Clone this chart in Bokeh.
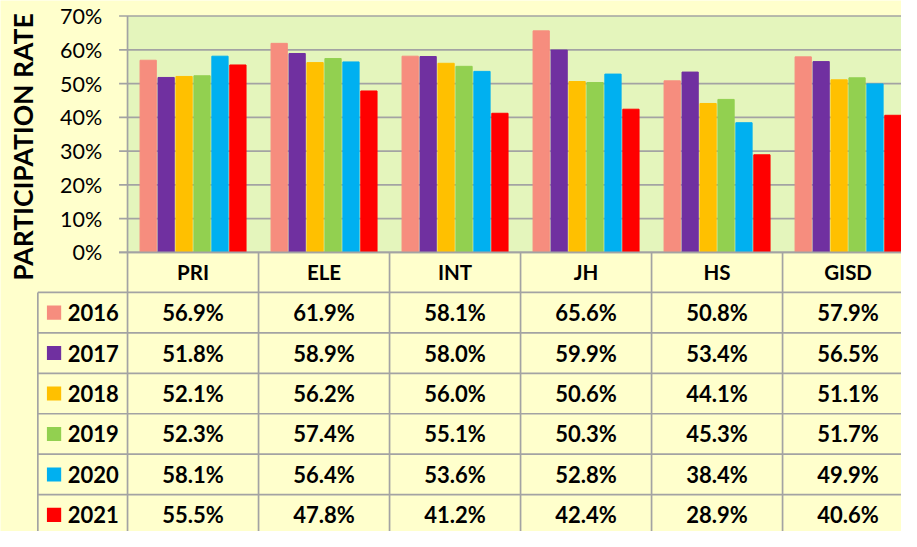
import math
from bokeh.plotting import figure
from bokeh.models import Range1d, ColumnDataSource
from bokeh.core.properties import value
from bokeh.embed import file_html
from bokeh.resources import INLINE

# ---------------- data ----------------
categories = ["PRI", "ELE", "INT", "JH", "HS", "GISD"]
years = ["2016", "2017", "2018", "2019", "2020", "2021"]
rate_2016 = [56.9, 61.9, 58.1, 65.6, 50.8, 57.9]
rate_2017 = [51.8, 58.9, 58.0, 59.9, 53.4, 56.5]
rate_2018 = [52.1, 56.2, 56.0, 50.6, 44.1, 51.1]
rate_2019 = [52.3, 57.4, 55.1, 50.3, 45.3, 51.7]
rate_2020 = [58.1, 56.4, 53.6, 52.8, 38.4, 49.9]
rate_2021 = [55.5, 47.8, 41.2, 42.4, 28.9, 40.6]
y_ticks = [0, 10, 20, 30, 40, 50, 60, 70]
y_tick_labels = ["0%", "10%", "20%", "30%", "40%", "50%", "60%", "70%"]
y_title = "PARTICIPATION RATE"

series = [rate_2016, rate_2017, rate_2018, rate_2019, rate_2020, rate_2021]
colors = ["#F68D7E", "#7030A0", "#FFC000", "#92D050", "#00B0F0", "#FF0000"]

# ---------------- layout (reference-pixel geometry, scaled to figure) ----------------
W, H = 901, 531
REF_W, REF_H = 917.0, 547.0
PLOT_LEFT = 129.3                   # x of plot-area left edge
CAT_W = 133.33                      # px per category
ZERO_Y = 259.5                      # y of 0%
PX_PER_UNIT = 3.479                 # px per percentage point

def X(px):
    return (px - PLOT_LEFT) / CAT_W

def Y(py):
    return (ZERO_Y - py) / PX_PER_UNIT

x_start, x_end = X(0.0), X(REF_W)
y_end, y_start = Y(0.0), Y(REF_H)

BG = "#FFFFCC"
PLOT_BG = "#E4F5BC"
LINE = "#A3A3A3"
LW = 1.7

p = figure(width=W, height=H, x_range=Range1d(x_start, x_end),
           y_range=Range1d(y_start, y_end), output_backend="svg",
           toolbar_location=None, min_border=0,
           x_axis_location=None, y_axis_location=None)
p.grid.visible = False
p.outline_line_color = None
p.background_fill_color = BG
p.border_fill_color = BG

# plot area background
p.quad(left=[0], right=[x_end + 1], bottom=[0], top=[max(y_ticks)],
       fill_color=PLOT_BG, line_color=None)

# gridlines + tick marks
tick_x0 = X(120.7)
p.segment(x0=[tick_x0] * len(y_ticks), x1=[x_end + 1] * len(y_ticks),
          y0=y_ticks, y1=y_ticks, line_color=LINE, line_width=LW)

# bars
pitch = 0.137
bar_w = 0.124
bx, btop, bcol = [], [], []
for k, vals in enumerate(series):
    for i, v in enumerate(vals):
        bx.append(i + 0.5 + (k - 2.5) * pitch)
        btop.append(v)
        bcol.append(colors[k])
p.vbar(x="x", top="top", bottom=0, width=bar_w, color="color",
       source=ColumnDataSource(dict(x=bx, top=btop, color=bcol)))

# 0 line above bars
p.segment(x0=[tick_x0], x1=[x_end + 1], y0=[0], y1=[0], line_color=LINE, line_width=LW)

# ---------------- table ----------------
HEADER_BOTTOM = 300.7
ROW_H = 41.67
TABLE_LEFT = 38.0
n_rows = len(years)
row_tops = [HEADER_BOTTOM + r * ROW_H for r in range(n_rows)]

p.segment(x0=[0], x1=[0], y0=[max(y_ticks)], y1=[y_start - 1], line_color=LINE, line_width=LW)
vx = list(range(1, len(categories) + 1))
p.segment(x0=vx, x1=vx, y0=[0] * len(vx), y1=[y_start - 1] * len(vx),
          line_color=LINE, line_width=LW)
p.segment(x0=[X(TABLE_LEFT)], x1=[X(TABLE_LEFT)], y0=[Y(HEADER_BOTTOM)], y1=[y_start - 1],
          line_color=LINE, line_width=LW)
hy = [Y(t) for t in row_tops]
p.segment(x0=[X(TABLE_LEFT)] * len(hy), x1=[x_end + 1] * len(hy), y0=hy, y1=hy,
          line_color=LINE, line_width=LW)

FONT = value("Lato")
p.text(x=[i + 0.5 for i in range(len(categories))],
       y=[Y((ZERO_Y + HEADER_BOTTOM) / 2)] * len(categories), text=categories,
       text_font=FONT, text_font_size=value("20.5px"), text_font_style="bold",
       text_color="#000000", text_align="center", text_baseline="middle")

tx, ty, tt = [], [], []
for r, vals in enumerate(series):
    cy = Y(row_tops[r] + ROW_H / 2)
    for i, v in enumerate(vals):
        tx.append(i + 0.5)
        ty.append(cy)
        tt.append(f"{v:.1f}%")
p.text(x=tx, y=ty, text=tt, text_font=FONT, text_font_size=value("22px"),
       text_font_style="bold", text_color="#000000", text_align="center",
       text_baseline="middle")

row_cy = [Y(t + ROW_H / 2) for t in row_tops]
SW = 14.5
p.rect(x=[X(54.5)] * n_rows, y=row_cy, width=SW / CAT_W, height=SW / PX_PER_UNIT,
       fill_color=colors, line_color=None)
p.text(x=[X(68.5)] * n_rows, y=row_cy, text=years, text_font=FONT,
       text_font_size=value("22px"), text_font_style="bold", text_color="#000000",
       text_align="left", text_baseline="middle")

p.text(x=[X(103.5)] * len(y_ticks), y=y_ticks, text=y_tick_labels, text_font=FONT,
       text_font_size=value("21.5px"), text_color="#000000", text_align="right",
       text_baseline="middle")

p.text(x=[X(23.0)], y=[Y(151.0)], text=[y_title], angle=math.pi / 2,
       text_font=FONT, text_font_size=value("26.5px"), text_font_style="bold",
       text_color="#000000", text_align="center", text_baseline="middle")

open("out.html", "w").write(file_html(p, INLINE))
